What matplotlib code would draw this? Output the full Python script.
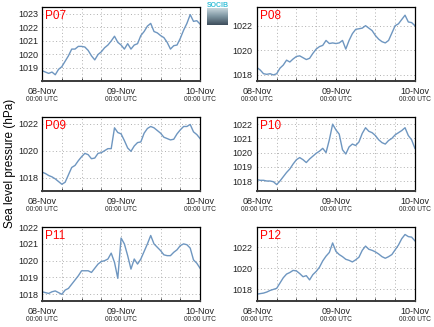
from matplotlib import pyplot as plt
import matplotlib.dates as mdates
from matplotlib.ticker import MultipleLocator
from matplotlib.colors import LinearSegmentedColormap
import numpy as np
import pandas as pd

plt.rcParams['font.family'] = ['Liberation Sans', 'DejaVu Sans']

# hourly values, 08-Nov 00:00 UTC to 10-Nov 00:00 UTC
times = pd.date_range('2017-11-08 00:00', '2017-11-10 00:00', freq='h')

stations = ['P07', 'P08', 'P09', 'P10', 'P11', 'P12']

p07 = [1018.8, 1018.7, 1018.6, 1018.7, 1018.5, 1018.9, 1019.1, 1019.5, 1019.9, 1020.4,
       1020.4, 1020.6, 1020.6, 1020.55, 1020.3, 1019.9, 1019.6, 1020.0, 1020.2, 1020.5,
       1020.7, 1021.0, 1021.35, 1020.9, 1020.7, 1020.4, 1020.8, 1020.4, 1020.7, 1020.8,
       1021.4, 1021.7, 1022.1, 1022.3, 1021.7, 1021.6, 1021.4, 1021.25, 1020.9, 1020.4,
       1020.65, 1020.7, 1021.2, 1021.8, 1022.3, 1022.95, 1022.45, 1022.5, 1022.25]
p08 = [1018.6, 1018.4, 1018.1, 1018.05, 1018.1, 1018.0, 1018.1, 1018.55, 1018.8, 1019.2,
       1019.05, 1019.3, 1019.5, 1019.55, 1019.4, 1019.25, 1019.35, 1019.75, 1020.1, 1020.3,
       1020.4, 1020.8, 1020.55, 1020.6, 1020.55, 1020.6, 1020.8, 1020.1, 1020.8, 1021.35,
       1021.7, 1021.75, 1021.8, 1022.0, 1021.8, 1021.6, 1021.2, 1020.9, 1020.7, 1020.6,
       1020.8, 1021.4, 1022.0, 1022.15, 1022.5, 1022.85, 1022.3, 1022.25, 1022.0]
p09 = [1018.4, 1018.3, 1018.15, 1018.05, 1017.9, 1017.7, 1017.5, 1017.65, 1018.2, 1018.75,
       1018.9, 1019.25, 1019.55, 1019.8, 1019.7, 1019.4, 1019.45, 1019.8, 1019.85, 1020.0,
       1020.15, 1020.15, 1021.7, 1021.35, 1021.25, 1020.75, 1020.2, 1019.95, 1020.35, 1020.6,
       1020.65, 1021.3, 1021.65, 1021.8, 1021.7, 1021.5, 1021.3, 1021.0, 1020.9, 1020.8,
       1020.85, 1021.25, 1021.55, 1021.8, 1021.8, 1021.95, 1021.4, 1021.2, 1020.9]
p10 = [1018.1, 1018.05, 1018.05, 1018.0, 1018.0, 1017.95, 1017.75, 1018.0, 1018.3, 1018.6,
       1018.85, 1019.2, 1019.5, 1019.65, 1019.5, 1019.3, 1019.55, 1019.75, 1019.95, 1020.1,
       1020.3, 1020.0, 1020.9, 1022.0, 1021.6, 1021.3, 1020.2, 1019.9, 1020.4, 1020.6,
       1020.5, 1020.75, 1021.35, 1021.75, 1021.5, 1021.4, 1021.2, 1020.9, 1020.7, 1020.6,
       1020.85, 1021.0, 1021.25, 1021.4, 1021.55, 1021.75, 1021.2, 1020.9, 1020.3]
p11 = [1018.15, 1018.1, 1018.05, 1018.15, 1018.2, 1018.1, 1018.0, 1018.25, 1018.35, 1018.6,
       1018.85, 1019.1, 1019.4, 1019.4, 1019.4, 1019.3, 1019.55, 1019.8, 1019.95, 1020.0,
       1020.1, 1020.45, 1019.9, 1018.95, 1021.35, 1021.0, 1020.3, 1019.5, 1020.1, 1019.8,
       1020.1, 1020.55, 1021.0, 1021.5, 1021.0, 1020.8, 1020.6, 1020.35, 1020.3, 1020.3,
       1020.5, 1020.65, 1020.9, 1021.0, 1020.95, 1020.75, 1020.05, 1019.85, 1019.55]
p12 = [1017.55, 1017.6, 1017.65, 1017.75, 1017.9, 1018.0, 1018.1, 1018.6, 1019.1, 1019.45,
       1019.6, 1019.8, 1019.75, 1019.5, 1019.2, 1019.3, 1018.9, 1019.4, 1019.7, 1020.1,
       1020.7, 1021.15, 1021.5, 1022.4, 1021.6, 1021.3, 1021.1, 1020.85, 1020.75, 1020.6,
       1020.8, 1021.05, 1021.7, 1022.1, 1021.8, 1021.7, 1021.55, 1021.35, 1021.1, 1020.95,
       1021.1, 1021.3, 1021.75, 1022.2, 1022.8, 1023.2, 1023.0, 1022.95, 1022.6]

series = [p07, p08, p09, p10, p11, p12]
ylims = [(1018.03, 1023.5), (1017.5, 1023.5), (1017.0, 1022.5),
         (1017.3, 1022.5), (1017.6, 1022.0), (1016.9, 1023.9)]
ysteps = [1, 2, 2, 1, 1, 2]

line_color = '#6e96c0'
grid_kw = dict(ls=(0, (1, 2.5)), color='#b0b0b0', lw=0.7)

fig = plt.figure(figsize=(4.34, 3.27), dpi=100)

lefts = [0.097, 0.592]
bottoms = [0.752, 0.416, 0.0795]
w, h = 0.364, 0.226

for i, name in enumerate(stations):
    ax = fig.add_axes([lefts[i % 2], bottoms[i // 2], w, h])
    ax.plot(times, series[i], color=line_color, lw=1.0)
    ax.set_xlim(times[0], times[-1])
    ax.set_ylim(*ylims[i])
    ax.yaxis.set_major_locator(MultipleLocator(ysteps[i]))

    ax.xaxis.set_major_locator(mdates.DayLocator())
    ax.xaxis.set_major_formatter(mdates.DateFormatter('%d-%b'))
    ax.xaxis.set_minor_locator(mdates.HourLocator(byhour=[6, 12, 18]))

    ax.grid(True, which='both', axis='x', **grid_kw)
    ax.grid(True, which='major', axis='y', **grid_kw)

    ax.tick_params(axis='both', which='both', direction='in', length=2, width=0.6,
                   labelsize=6.5, pad=4, colors='#222222')
    ax.tick_params(axis='y', length=0, pad=3)
    for sp in ax.spines.values():
        sp.set_linewidth(0.9)
    ax.spines['bottom'].set_linewidth(1.4)
    ax.spines['bottom'].set_color('#3a3a3a')

    # second line of the x labels
    for t in [times[0], times[24], times[48]]:
        ax.text(mdates.date2num(t), -0.245, '00:00 UTC', fontsize=4.8, color='#222222',
                ha='center', va='center', transform=ax.get_xaxis_transform())

    ax.text(0.02, 0.96, name, color='red', fontsize=8.5, ha='left', va='top',
            transform=ax.transAxes)

fig.text(0.023, 0.5, 'Sea level pressure (hPa)', rotation=90, fontsize=8.5,
         ha='center', va='center')

# small logo in the top middle
logo_cmap = LinearSegmentedColormap.from_list('logo', ['#cfdde2', '#7f97a3', '#3e4e5c'])
logo = fig.add_axes([0.477, 0.925, 0.048, 0.052])
grad = np.linspace(0, 1, 50).reshape(-1, 1)
logo.imshow(grad, cmap=logo_cmap, aspect='auto')
logo.set_axis_off()
fig.text(0.501, 0.982, 'SOCIB', color='#38c0d8', fontsize=5, ha='center', va='center',
         fontweight='bold')

plt.savefig('out.png', dpi=100)
